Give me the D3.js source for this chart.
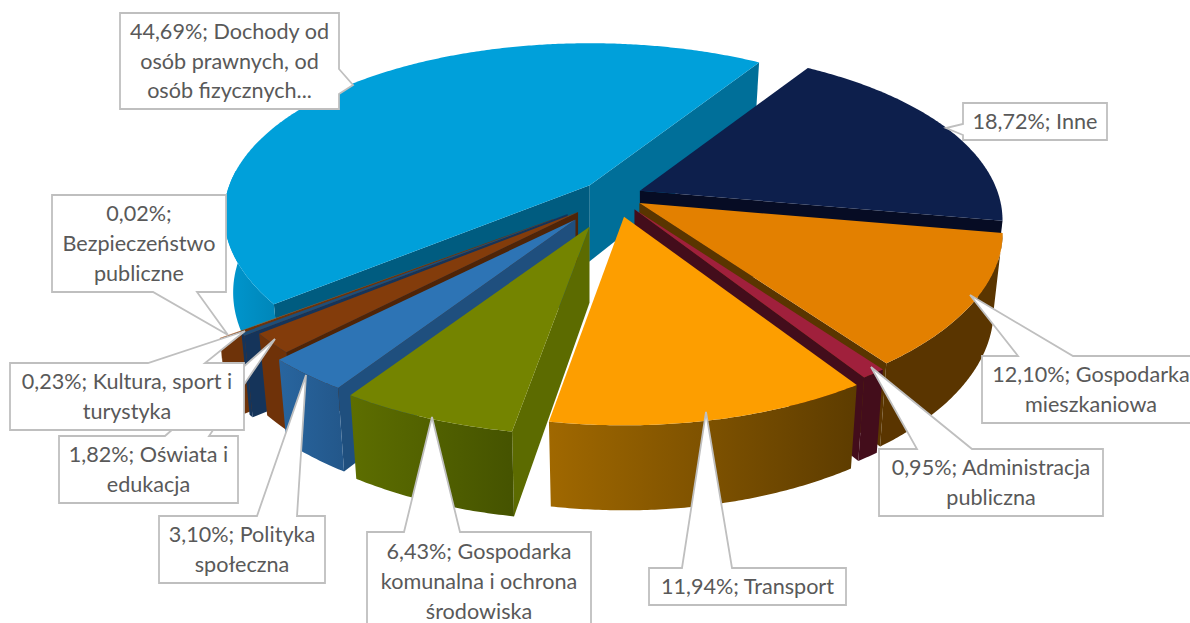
<!DOCTYPE html>
<html>
<head>
<meta charset="utf-8">
<script src="https://cdn.jsdelivr.net/npm/d3@7"></script>
<style>
    html, body { margin: 0; padding: 0; background: #fff; overflow: hidden; }
    svg { display: block; }
</style>
</head>
<body>
<script>
    // values, clockwise from the back right
    var categories = ["Inne", "Gospodarka mieszkaniowa", "Administracja publiczna", "Transport",
        "Gospodarka komunalna i ochrona środowiska", "Polityka społeczna", "Oświata i edukacja",
        "Kultura, sport i turystyka", "Bezpieczeństwo publiczne", "Dochody od osób prawnych, od osób fizycznych..."];
    var percents = [18.72, 12.10, 0.95, 11.94, 6.43, 3.10, 1.82, 0.23, 0.02, 44.69];

    // label text after the percentage, wrapped the way the callouts wrap it
    var labelRows = [
        ["; Inne"],
        ["; Gospodarka", "mieszkaniowa"],
        ["; Administracja", "publiczna"],
        ["; Transport"],
        ["; Gospodarka", "komunalna i ochrona", "środowiska"],
        ["; Polityka", "społeczna"],
        ["; Oświata i", "edukacja"],
        ["; Kultura, sport i", "turystyka"],
        [";", "Bezpieczeństwo", "publiczne"],
        ["; Dochody od", "osób prawnych, od", "osób fizycznych..."]
    ];

    // look of each slice
    var topColors = ["#0D1F4C", "#E38000", "#A0203C", "#FD9E00", "#748400", "#2D74B5", "#833C0B", "#1E4E79", "#C55A11", "#00A0DA"];
    var sideColors = ["#060C24", "#5A3500", "#430D1B", "#5A3500", "#5C6B00", "#1F4F7E", "#4F2407", "#15345A", "#6E3309", "#006F99"];
    var endColors = ["#060C24", "#5A3500", "#430D1B", "#5A3500", "#5C6B00", "#1F4F7E", "#4F2407", "#15345A", "#6E3309", "#005C80"];
    var arcFrom = ["#060C24", "#5A3500", "#430D1B", "#A06800", "#5D6E00", "#28659F", "#6F3209", "#15345A", "#6E3309", "#0098D0"];
    var arcTo = ["#060C24", "#5A3500", "#430D1B", "#5D3C00", "#455300", "#23578A", "#6F3209", "#15345A", "#6E3309", "#0084B6"];

    // how far each slice is pulled out of the pie
    var explode = [0.076, 0.08, 0.095, 0.125, 0.195, 0.177, 0.14, 0.17, 0.22, 0.095];
    var paintOrder = [9, 0, 8, 7, 6, 5, 4, 1, 2, 3];

    // callouts: box, wedge base on one side of the box, wedge tip
    var callouts = [
        {box: [963, 103, 1107, 140], side: "left", base: [124, 135], tip: [946, 128]},
        {box: [982, 356, 1200, 423], side: "top", base: [1018, 1073], tip: [970, 295]},
        {box: [879, 449, 1103, 516], side: "top", base: [917, 972], tip: [871, 367]},
        {box: [649, 568, 846, 605], side: "top", base: [682, 732], tip: [706, 412]},
        {box: [367, 532, 591, 631], side: "top", base: [404, 460], tip: [432, 417]},
        {box: [159, 516, 325, 583], side: "top", base: [257, 297], tip: [306, 375]},
        {box: [59, 436, 238, 503], side: "top", base: [165, 209], tip: [275, 339]},
        {box: [10, 363, 244, 430], side: "top", base: [148, 205], tip: [245, 331]},
        {box: [52, 195, 226, 292], side: "bottom", base: [153, 197], tip: [228, 335]},
        {box: [120, 13, 339, 109], side: "right", base: [69, 94], tip: [353, 85]}
    ];
    var calloutOrder = [0, 1, 2, 3, 4, 5, 6, 8, 7, 9];

    var width = 1190, height = 623;
    var cx = 615, cy = 196;
    var radiusX = 358, radiusY = 169;
    var perspectiveX = 0.17, perspectiveY = 0.19;
    var rotation = 32.5 * Math.PI / 180;

    var svg = d3.select("body").append("svg")
        .attr("width", width)
        .attr("height", height);
    var defs = svg.append("defs");

    var color = function (list) {
        return d3.scaleOrdinal().domain(categories).range(list);
    };
    var topColor = color(topColors), sideColor = color(sideColors), endColor = color(endColors);
    var arcFromColor = color(arcFrom), arcToColor = color(arcTo);
    var explodeScale = d3.scaleOrdinal().domain(categories).range(explode);

    var pie = d3.pie()
        .sort(null)
        .value(function (d) { return d.value; })
        .startAngle(rotation)
        .endAngle(rotation + 2 * Math.PI);

    var slices = pie(categories.map(function (c, i) {
        return {name: c, value: percents[i], index: i};
    }));

    // position on the rim relative to the apex of the slice, r=0 gives the apex
    function project(theta, r, bottom, widen) {
        var X = Math.sin(theta) * r, Z = Math.cos(theta) * r;
        var x = radiusX * X / (1 + perspectiveX * Z) * widen;
        var y = -radiusY * Z / (1 + perspectiveY * Z);
        if (bottom) {
            x *= 0.975;
            y += 76 - 9 * Z;
        }
        return [x, y];
    }

    var line = d3.line();
    var rad = Math.PI / 180;

    function drawSlice(d) {
        var name = d.data.name;
        var mid = (d.startAngle + d.endAngle) / 2;
        var e = explodeScale(name);
        var widen = 1 + 0.45 * (e - 0.08);   // slices pulled far out come closer to the camera
        var ox = cx + e * radiusX * Math.sin(mid);
        var oy = cy - e * radiusY * Math.cos(mid);
        var g = svg.append("g").attr("transform", "translate(" + ox + "," + oy + ")");

        function pt(theta, r, bottom) {
            return project(theta, r, bottom, widen);
        }

        // radial walls, only when they face the viewer
        function radial(theta, fill) {
            g.append("path")
                .attr("d", line([pt(theta, 0), pt(theta, 1), pt(theta, 1, true), pt(theta, 0, true)]) + "Z")
                .attr("fill", fill);
        }
        if (Math.sin(d.startAngle) < 0) radial(d.startAngle, endColor(name));
        if (Math.sin(d.endAngle) > 0) radial(d.endAngle, sideColor(name));

        // outer wall, front half only
        var a0 = Math.max(d.startAngle, 99.8 * rad), a1 = Math.min(d.endAngle, 275 * rad);
        if (a1 > a0) {
            var angles = d3.range(a0, a1, rad / 2).concat([a1]);
            var gradId = "wall" + d.data.index;
            var grad = defs.append("linearGradient").attr("id", gradId);
            grad.append("stop").attr("offset", "0%").attr("stop-color", arcFromColor(name));
            grad.append("stop").attr("offset", "100%").attr("stop-color", arcToColor(name));
            var wall = angles.map(function (t) { return pt(t, 1); })
                .concat(angles.slice().reverse().map(function (t) { return pt(t, 1, true); }));
            g.append("path").attr("d", line(wall) + "Z").attr("fill", "url(#" + gradId + ")");
        }

        // top face
        var rim = d3.range(d.startAngle, d.endAngle, rad / 2).concat([d.endAngle]);
        var top = [pt(0, 0)].concat(rim.map(function (t) { return pt(t, 1); }));
        g.append("path").attr("d", line(top) + "Z").attr("fill", topColor(name));
    }

    paintOrder.forEach(function (i) { drawSlice(slices[i]); });

    // callouts
    var pctFormat = d3.format(".2f");

    function calloutPath(c) {
        var x0 = c.box[0], y0 = c.box[1], x1 = c.box[2], y1 = c.box[3];
        var pts = [[x0, y0]];
        if (c.side === "top") pts.push([c.base[0], y0], c.tip, [c.base[1], y0]);
        pts.push([x1, y0]);
        if (c.side === "right") pts.push([x1, c.base[0]], c.tip, [x1, c.base[1]]);
        pts.push([x1, y1]);
        if (c.side === "bottom") pts.push([c.base[1], y1], c.tip, [c.base[0], y1]);
        pts.push([x0, y1]);
        if (c.side === "left") pts.push([x0, c.base[1]], c.tip, [x0, c.base[0]]);
        return line(pts) + "Z";
    }

    calloutOrder.forEach(function (i) {
        var c = callouts[i];
        var g = svg.append("g");
        g.append("path")
            .attr("d", calloutPath(c))
            .attr("fill", "#fff")
            .attr("stroke", "#BFBFBF")
            .attr("stroke-width", 1.8);

        var rows = labelRows[i].slice();
        rows[0] = pctFormat(percents[i]).replace(".", ",") + "%" + rows[0];
        var pitch = 29.6;
        var mx = (c.box[0] + c.box[2]) / 2, my = (c.box[1] + c.box[3]) / 2;
        g.selectAll("text")
            .data(rows)
            .enter()
            .append("text")
            .attr("x", mx)
            .attr("y", function (d, k) { return my + (k - (rows.length - 1) / 2) * pitch + 7.5; })
            .attr("text-anchor", "middle")
            .attr("font-family", "Lato, 'Open Sans', sans-serif")
            .attr("font-size", 21.6)
            .attr("fill", "#595959")
            .text(function (d) { return d; });
    });
</script>
</body>
</html>
